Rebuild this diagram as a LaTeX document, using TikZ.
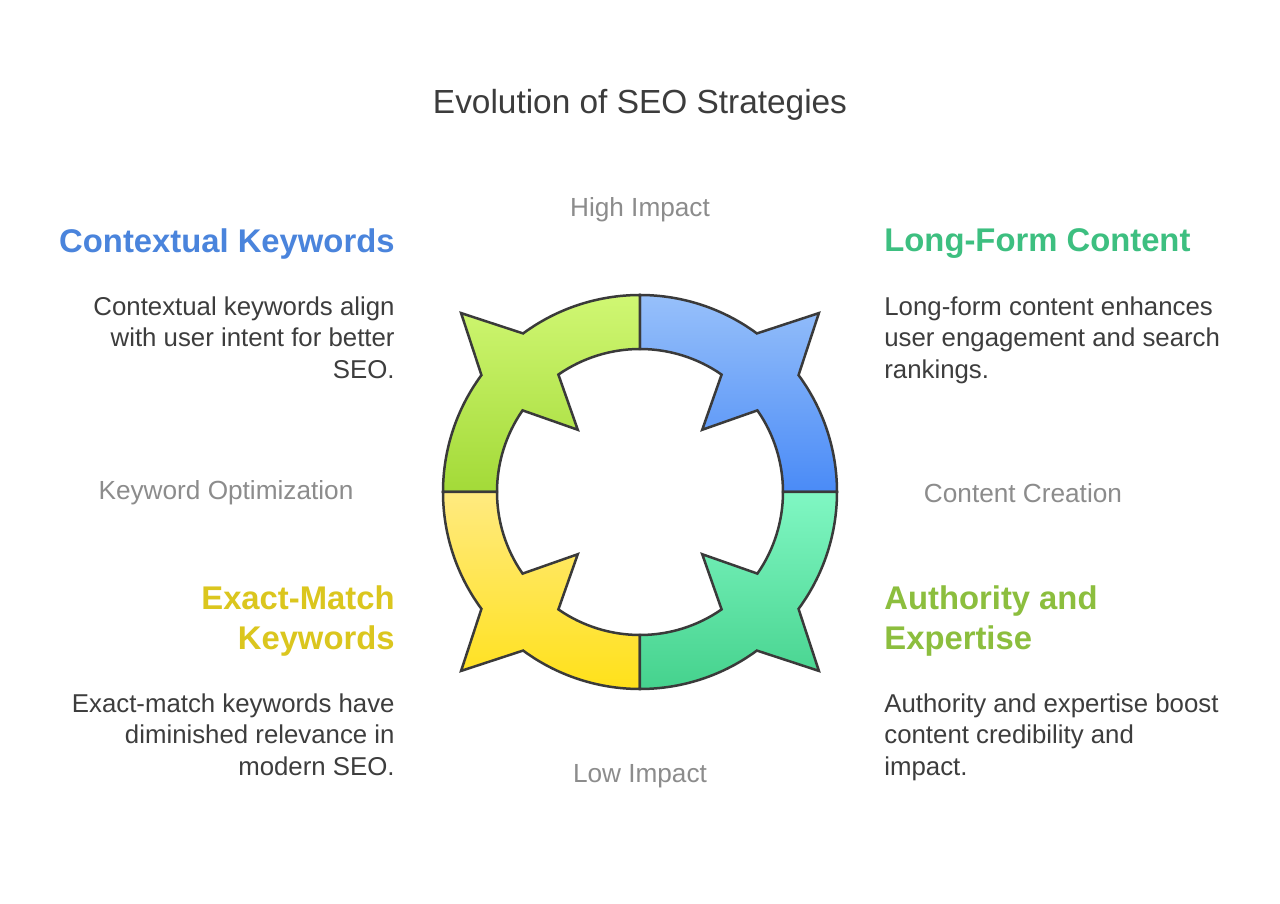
\documentclass[tikz,border=0pt]{standalone}
\usepackage{fontspec}
\setmainfont{Liberation Sans}
\usetikzlibrary{positioning}
\definecolor{titlegray}{HTML}{3C3C3C}
\definecolor{textgray}{HTML}{3D3D3D}
\definecolor{axisgray}{HTML}{8C8C8C}
\definecolor{ringline}{HTML}{3A3A3A}
\definecolor{headblue}{HTML}{4A84DC}
\definecolor{headgreen}{HTML}{3DBF80}
\definecolor{headyellow}{HTML}{DBC61E}
\definecolor{headlime}{HTML}{8CBE3E}
\definecolor{limetop}{HTML}{D0F773}
\definecolor{limebot}{HTML}{A3DA38}
\definecolor{bluetop}{HTML}{97C0FA}
\definecolor{bluebot}{HTML}{4A8BF7}
\definecolor{tealtop}{HTML}{80F7C3}
\definecolor{tealbot}{HTML}{45D28D}
\definecolor{yelltop}{HTML}{FFEA80}
\definecolor{yellbot}{HTML}{FFE11A}

\begin{document}
\begin{tikzpicture}[
  x=0.5pt, y=0.5pt,
  segment/.style={draw=ringline, line width=1.25pt, line join=miter},
  title/.style={font=\fontsize{16.7}{20}\selectfont, text=titlegray, inner sep=0},
  axislabel/.style={font=\fontsize{13.1}{15}\selectfont, text=axisgray, inner sep=0},
  heading/.style={font=\fontsize{16.4}{20}\selectfont\bfseries, inner sep=0},
  body/.style={font=\fontsize{12.9}{15.75}\selectfont, text=textgray, inner sep=0}
]
  \useasboundingbox[fill=white] (-640,-412) rectangle (640,492);

  % four quadrants of the ring, each with a double barb
  \foreach \s/\tc/\bc in {0/bluetop/bluebot, 90/limetop/limebot, 180/yelltop/yellbot, 270/tealtop/tealbot}{
    \draw[segment, top color=\tc, bottom color=\bc]
      (\s:197) arc[start angle=\s, end angle=\s+36.4, radius=197]
      -- ({\s+45}:253) -- ({\s+53.6}:197)
      arc[start angle=\s+53.6, end angle=\s+90, radius=197]
      -- ({\s+90}:143)
      arc[start angle=\s+90, end angle=\s+55.2, radius=143]
      -- ({\s+45}:88) -- ({\s+34.8}:143)
      arc[start angle=\s+34.8, end angle=\s, radius=143] -- cycle;
  }

  \node[title] (title) at (0,387) {Evolution of SEO Strategies};

  \node[axislabel] (high) at (0,282) {High Impact};
  \node[axislabel] (low) at (0,-284) {Low Impact};
  \node[axislabel] (kwopt) at (-414,-1) {Keyword Optimization};
  \node[axislabel] (content) at (383,-1) {Content Creation};

  % left column
  \node[heading, text=headblue, anchor=north east] (ctxhead) at (-245,264) {Contextual Keywords};
  \node[body, align=right, anchor=north east] (ctxbody) at (-245,196)
    {Contextual keywords align\\with user intent for better\\SEO.};
  \node[heading, text=headyellow, align=right, anchor=north east] (exacthead) at (-245,-93)
    {Exact-Match\\Keywords};
  \node[body, align=right, anchor=north east] (exactbody) at (-245,-201)
    {Exact-match keywords have\\diminished relevance in\\modern SEO.};

  % right column
  \node[heading, text=headgreen, anchor=north west] (longhead) at (244,264) {Long-Form Content};
  \node[body, align=left, anchor=north west] (longbody) at (244,196)
    {Long-form content enhances\\user engagement and search\\rankings.};
  \node[heading, text=headlime, align=left, anchor=north west] (authhead) at (244,-93)
    {Authority and\\Expertise};
  \node[body, align=left, anchor=north west] (authbody) at (244,-201)
    {Authority and expertise boost\\content credibility and\\impact.};
\end{tikzpicture}
\end{document}
